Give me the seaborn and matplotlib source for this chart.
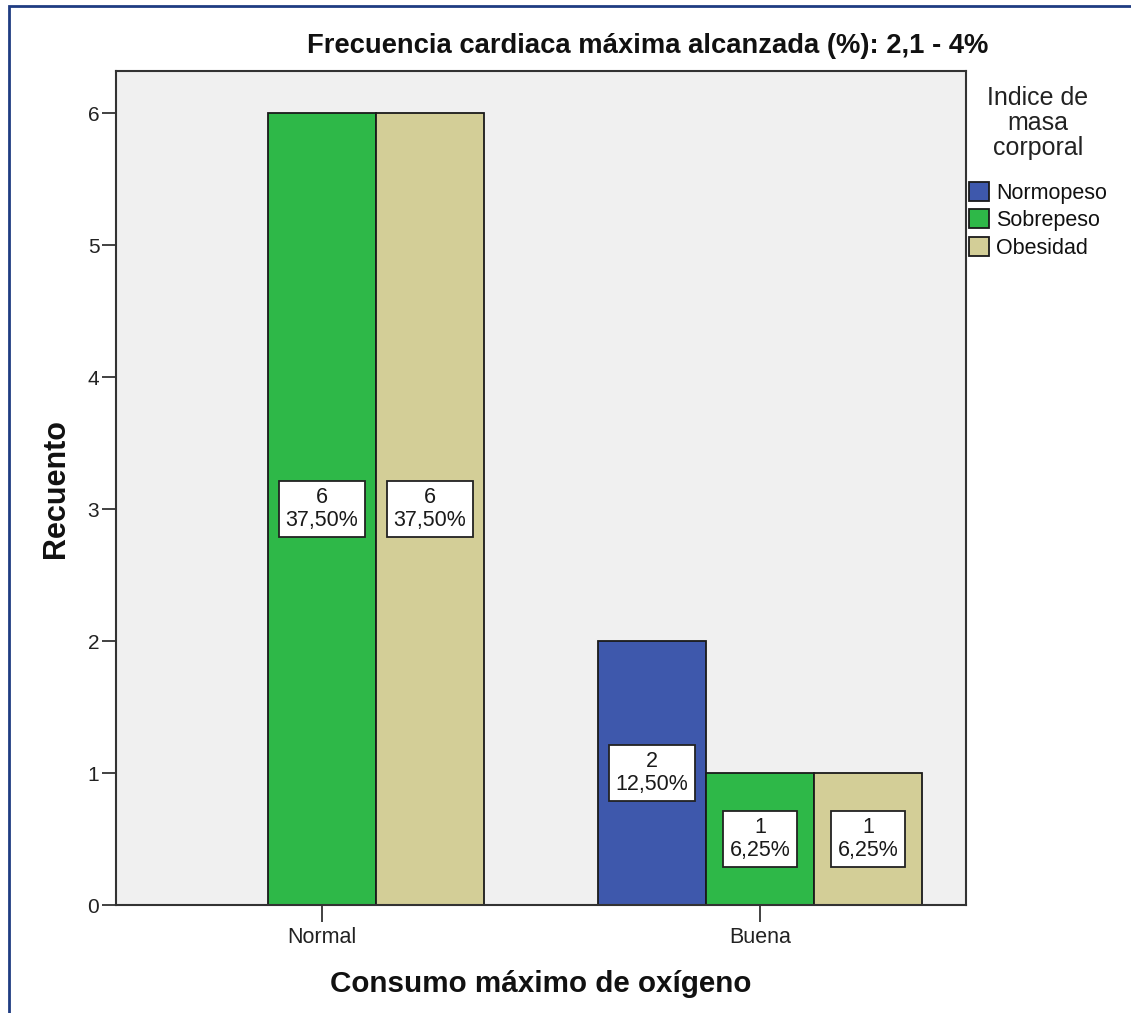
import matplotlib
matplotlib.use("Agg")
import matplotlib.pyplot as plt
from matplotlib.patches import Rectangle
import seaborn as sns
import pandas as pd

# Counts of subjects by oxygen-uptake class and BMI group
categories = ["Normal", "Buena"]
groups = ["Normopeso", "Sobrepeso", "Obesidad"]
normal_counts = [0, 6, 6]
buena_counts = [2, 1, 1]
colors = ["#3E58AC", "#2EB848", "#D3CE97"]
y_ticks = [0, 1, 2, 3, 4, 5, 6]

rows = []
for cat, counts in zip(categories, [normal_counts, buena_counts]):
    for g, c in zip(groups, counts):
        if c > 0:
            rows.append({"Consumo": cat, "IMC": g, "Recuento": c})
df = pd.DataFrame(rows)
total = sum(normal_counts) + sum(buena_counts)

sns.set_theme(style="white")
plt.rcParams["font.family"] = ["Liberation Sans", "DejaVu Sans"]

W, H = 1131, 1013
fig = plt.figure(figsize=(W / 100, H / 100), dpi=100)
ax = fig.add_axes([116 / W, 1 - 905 / H, (966 - 116) / W, (905 - 71) / H])
ax.set_facecolor("#F0F0F0")

sns.barplot(data=df, x="Consumo", y="Recuento", hue="IMC",
            order=categories, hue_order=groups, palette=colors,
            saturation=1, width=0.74, edgecolor="#1a1a1a", linewidth=1.3,
            errorbar=None, ax=ax, legend=True)

# value / percentage boxes centred in each bar
for cont in ax.containers:
    labels = []
    for p in cont:
        h = p.get_height()
        if h > 0:
            labels.append(f"{int(round(h))}\n{h / total * 100:.2f}%".replace(".", ","))
        else:
            labels.append("")
    texts = ax.bar_label(cont, labels=labels, label_type="center", fontsize=15.5,
                         color="#1a1a1a", linespacing=1.08,
                         bbox=dict(boxstyle="square,pad=0.3", facecolor="white",
                                   edgecolor="#222222", linewidth=1.3))
    for t in texts:
        t.set_multialignment("center")

ax.set_xlim(-0.47, 1.47)
ax.set_ylim(0, 6.32)
ax.set_yticks(y_ticks)
ax.set_yticklabels([str(t) for t in y_ticks])

for s in ax.spines.values():
    s.set_visible(True)
    s.set_color("#333333")
    s.set_linewidth(1.5)

ax.tick_params(axis="y", direction="out", length=10, width=1.3, color="#333333",
               labelsize=15, labelcolor="#222222", pad=2, left=True)
ax.tick_params(axis="x", direction="out", length=12, width=1.3, color="#333333",
               labelsize=15.5, labelcolor="#222222", pad=4, bottom=True)

ax.set_xlabel("Consumo máximo de oxígeno", fontsize=21.3, fontweight="bold",
              labelpad=16, color="#111111")
ax.set_ylabel("Recuento", fontsize=22, fontweight="bold", labelpad=12,
              color="#111111")

fig.text(648 / W, 1 - 46 / H, "Frecuencia cardiaca máxima alcanzada (%): 2,1 - 4%",
         ha="center", va="center", fontsize=19.7, fontweight="bold", color="#111111")

# legend title drawn above the entries
fig.text(1038 / W, 1 - 123 / H, "Indice de\nmasa\ncorporal", ha="center",
         va="center", multialignment="center", fontsize=18, color="#222222",
         linespacing=1.05)

leg = ax.legend(loc="upper left", bbox_to_anchor=(969 / W, 1 - 182 / H),
                bbox_transform=fig.transFigure, frameon=False,
                fontsize=15.5, handlelength=0.95, handleheight=0.95,
                handletextpad=0.3, labelspacing=0.27,
                borderpad=0, borderaxespad=0)
for h in leg.legend_handles:
    h.set_edgecolor("#1a1a1a")
    h.set_linewidth(1.3)
for t in leg.get_texts():
    t.set_color("#111111")

# outer frame around the chart
fig.patches.append(Rectangle((9 / W, -0.05), 1.2, 1 - 6 / H + 0.05,
                             transform=fig.transFigure, fill=False,
                             edgecolor="#1F3C82", linewidth=2))

fig.savefig("out.png", dpi=100)
